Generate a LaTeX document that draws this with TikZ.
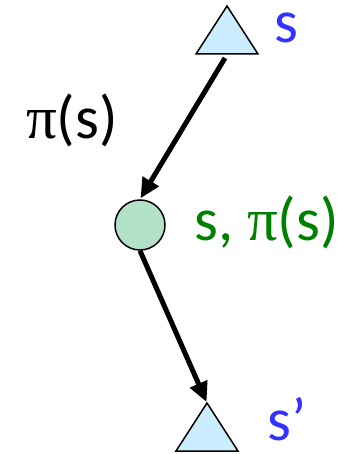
\documentclass[tikz,border=0pt]{standalone}
\usepackage{fontspec}
\setmainfont{Carlito}
\newfontfamily\pifont{Liberation Serif}
\usetikzlibrary{arrows.meta}
\definecolor{triblue}{RGB}{204,236,255}
\definecolor{circgreen}{RGB}{179,226,200}
\definecolor{lblblue}{RGB}{51,51,255}
\definecolor{lblgreen}{RGB}{0,128,0}
\tikzset{
  lbl/.style={inner sep=0pt, font=\fontsize{61}{64}\selectfont},
  tri/.style={draw=black, line width=1.5pt, fill=triblue, line join=miter},
  conn/.style={line width=5pt, -{Triangle[length=20pt,width=18pt]}, shorten >=1pt},
}
\begin{document}
\begin{tikzpicture}[x=1pt,y=-1pt]
\useasboundingbox (0,0) rectangle (356,454);
% top triangle
\draw[tri] (227,6) -- (258,54) -- (196,54) -- cycle;
% circle
\node[circle, draw=black, line width=1.5pt, fill=circgreen, minimum size=50pt, inner sep=0pt] (c) at (140,225) {};
% bottom triangle
\draw[tri] (207,403) -- (238,451) -- (176,451) -- cycle;
\coordinate (btip) at (207,403);
\coordinate (stop) at (225,58);
% labels
\node[lbl, text=lblblue, anchor=west] (ls) at (274,28) {s};
\node[lbl, text=lblgreen, anchor=west] (lc) at (194,222) {s, {\pifont π}(s)};
\node[lbl, text=lblblue, anchor=west] (lb) at (267,419) {s’};
\node[lbl, text=black, anchor=west] (lp) at (26,120) {{\pifont π}(s)};
% connectors
\draw[conn] (stop) -- (c.north);
\draw[conn] (c.south) -- (btip);
\end{tikzpicture}
\end{document}
